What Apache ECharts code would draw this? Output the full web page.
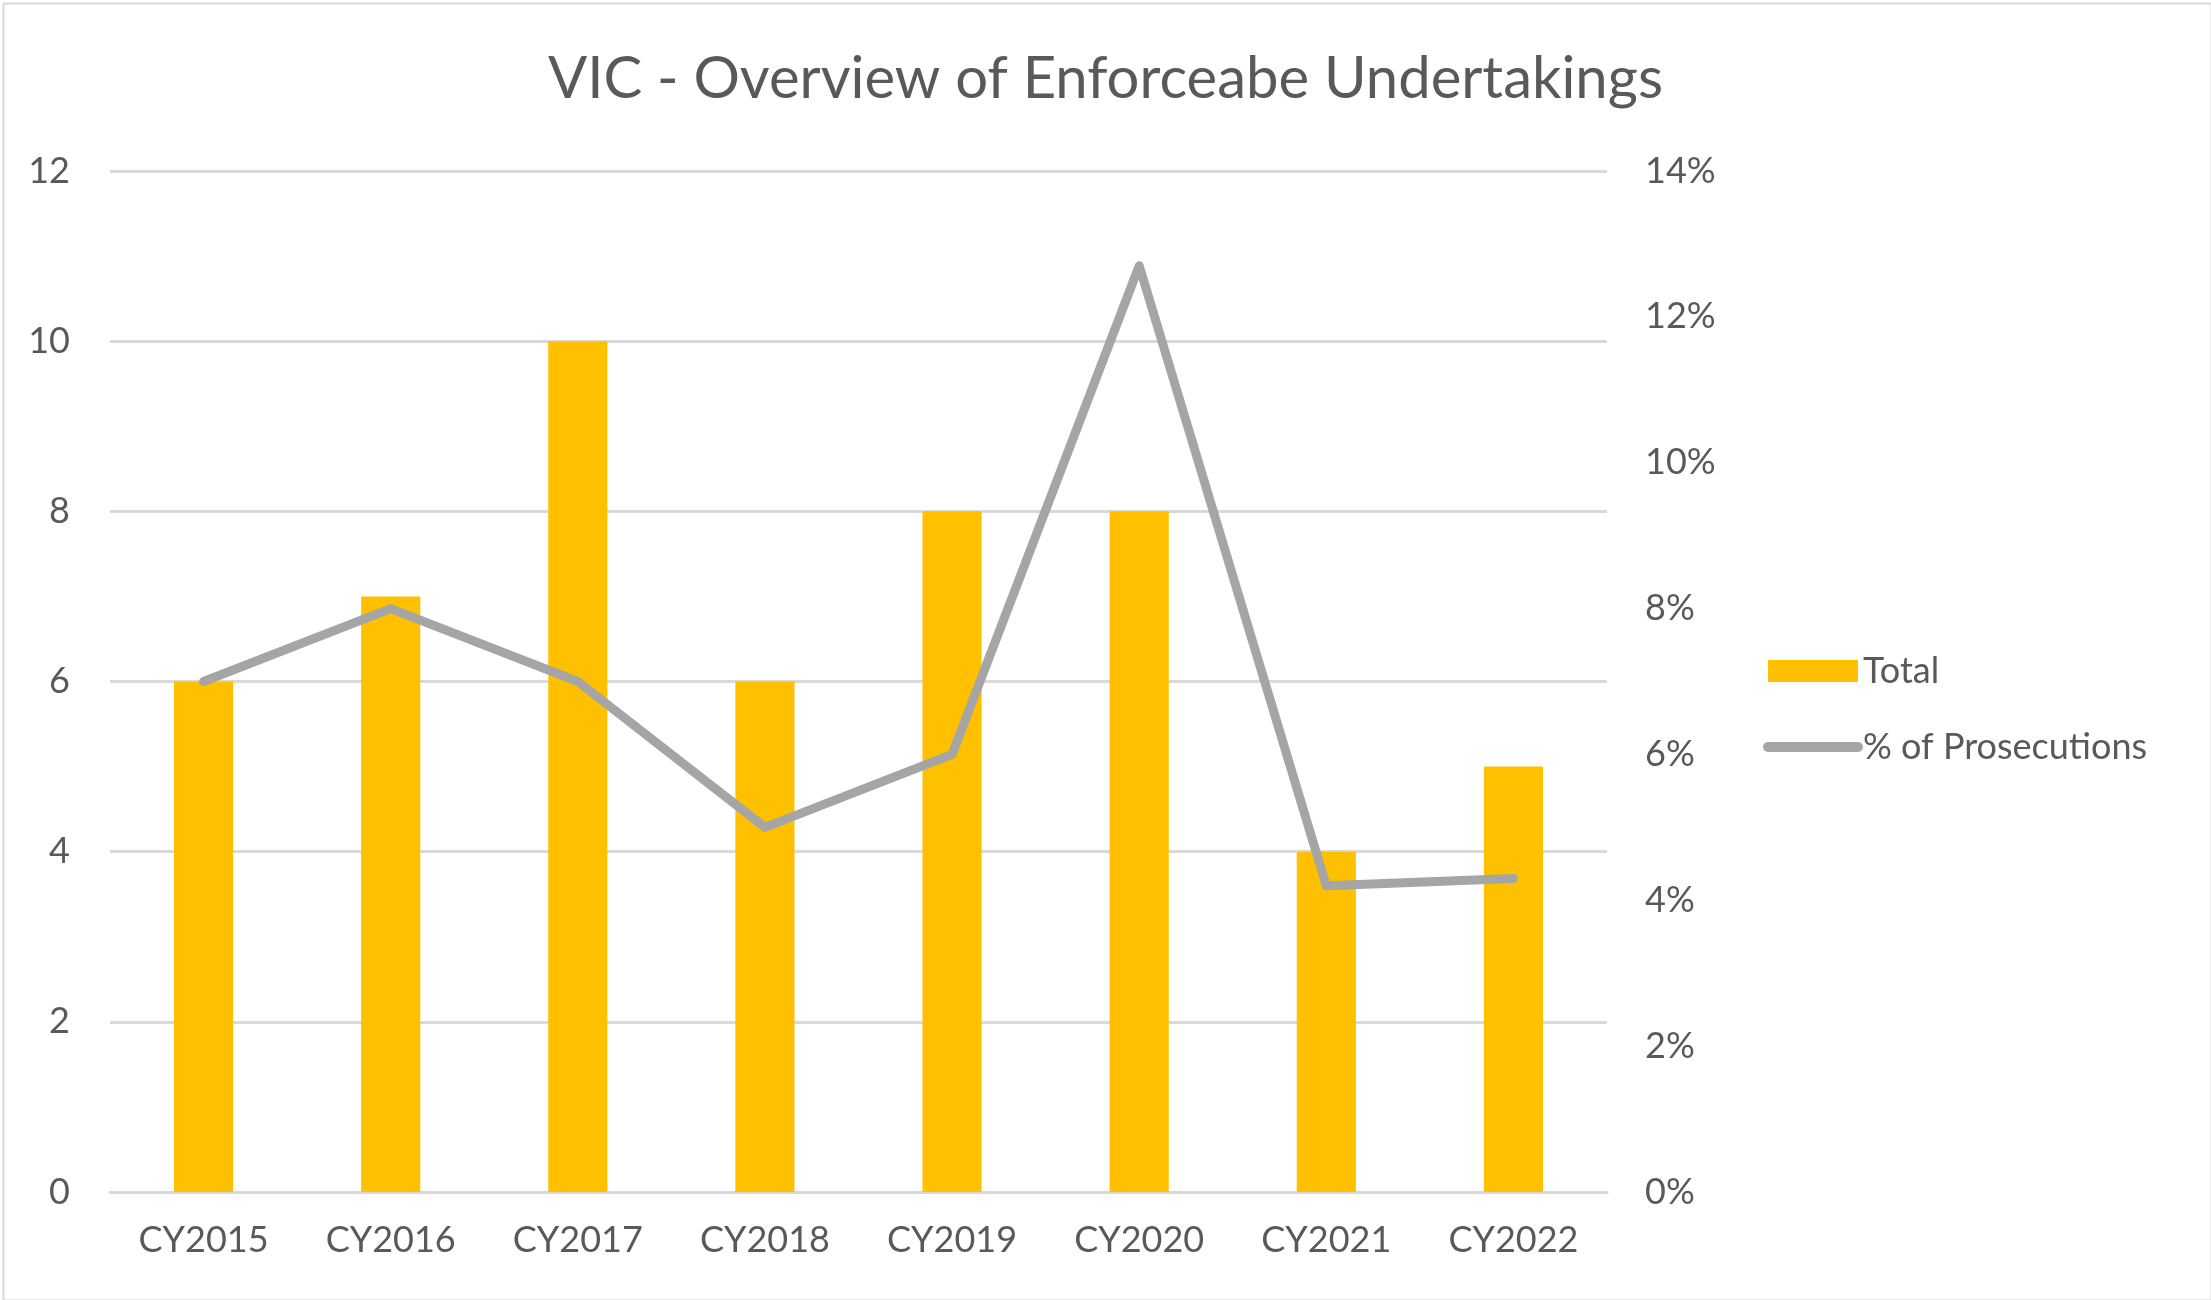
<!DOCTYPE html>
<html>
<head>
<meta charset="utf-8">
<title>VIC - Overview of Enforceabe Undertakings</title>
<script src="https://cdn.jsdelivr.net/npm/echarts@6/dist/echarts.min.js"></script>
<style>
  html, body { margin: 0; padding: 0; background: #fff; }
  #chart { width: 2211px; height: 1300px; }
</style>
</head>
<body>
<div id="chart"></div>
<script>
// Chart data
const categories = ['CY2015', 'CY2016', 'CY2017', 'CY2018', 'CY2019', 'CY2020', 'CY2021', 'CY2022'];
const totals = [6, 7, 10, 6, 8, 8, 4, 5];
const prosecutionPct = [7, 8, 7, 5, 6, 12.7, 4.2, 4.3];

const textColor = '#595959';
const fontFamily = 'Lato, "Open Sans", sans-serif';

const myChart = echarts.init(document.getElementById('chart'));

const option = {
  animation: false,
  backgroundColor: '#fff',
  textStyle: { fontFamily: fontFamily },
  title: {
    text: 'VIC - Overview of Enforceabe Undertakings',
    left: 'center',
    top: 45,
    textStyle: {
      color: textColor,
      fontFamily: fontFamily,
      fontSize: 58,
      fontWeight: 'normal'
    }
  },
  graphic: [
    {
      type: 'rect',
      left: 1,
      top: 1,
      shape: { width: 2208, height: 1297 },
      style: { fill: 'none', stroke: '#d9d9d9', lineWidth: 2 },
      silent: true
    }
  ],
  legend: {
    orient: 'vertical',
    left: 1758,
    top: 648,
    itemWidth: 90,
    itemHeight: 22,
    itemGap: 40,
    textStyle: { color: textColor, fontSize: 36, fontFamily: fontFamily },
    data: [
      { name: 'Total', icon: 'rect' },
      {
        name: '% of Prosecutions',
        itemStyle: { opacity: 0 },
        lineStyle: { color: '#a5a5a5', width: 10, cap: 'round' }
      }
    ]
  },
  grid: {
    left: 110,
    right: 604,
    top: 171,
    bottom: 108
  },
  xAxis: {
    type: 'category',
    data: categories,
    axisLine: { lineStyle: { color: '#d9d9d9', width: 3 } },
    axisTick: { show: false },
    axisLabel: { color: textColor, fontSize: 36, margin: 30 }
  },
  yAxis: [
    {
      type: 'value',
      min: 0,
      max: 12,
      interval: 2,
      axisLine: { show: false },
      axisTick: { show: false },
      axisLabel: { color: textColor, fontSize: 36, margin: 40 },
      splitLine: { lineStyle: { color: '#d9d9d9', width: 3 } }
    },
    {
      type: 'value',
      min: 0,
      max: 14,
      interval: 2,
      position: 'right',
      axisLine: { show: false },
      axisTick: { show: false },
      axisLabel: { color: textColor, fontSize: 36, margin: 38, formatter: '{value}%' },
      splitLine: { show: false }
    }
  ],
  series: [
    {
      name: 'Total',
      type: 'bar',
      data: totals,
      barWidth: '31.6%',
      itemStyle: { color: '#ffc000' }
    },
    {
      name: '% of Prosecutions',
      type: 'line',
      yAxisIndex: 1,
      data: prosecutionPct,
      symbol: 'none',
      itemStyle: { color: '#a5a5a5' },
      lineStyle: { color: '#a5a5a5', width: 9, cap: 'round', join: 'round' }
    }
  ]
};

myChart.setOption(option);
</script>
</body>
</html>
